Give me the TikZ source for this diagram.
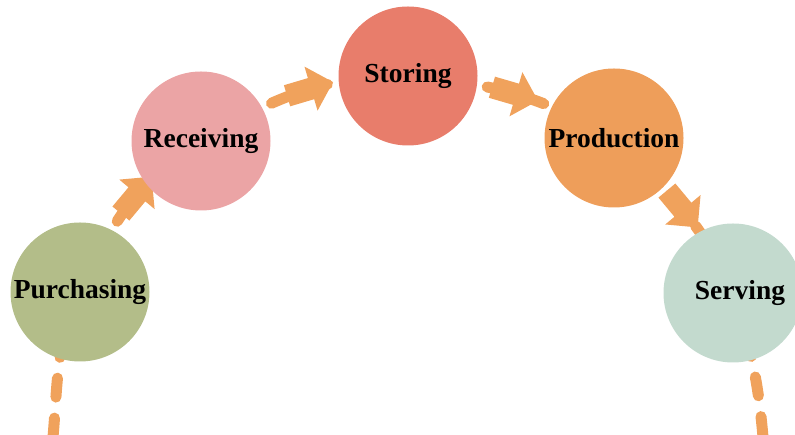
\documentclass[tikz,border=0pt]{standalone}
\usepackage{fontspec}
\setmainfont{Liberation Serif}
\usepackage{tikz}
\usetikzlibrary{arrows.meta,calc,positioning,decorations.markings,backgrounds}
\usepackage{xcolor}
\definecolor{cPurch}{RGB}{179,189,137}
\definecolor{cRecv}{RGB}{235,164,165}
\definecolor{cStor}{RGB}{232,125,107}
\definecolor{cProd}{RGB}{238,158,90}
\definecolor{cServ}{RGB}{195,218,206}
\definecolor{cFlow}{RGB}{240,162,92}

\tikzset{
  stage/.style={circle, minimum size=139pt, inner sep=0pt,
    font=\fontsize{27.5}{30}\selectfont\bfseries},
  flow/.style={cFlow, line width=11pt, line cap=round, dash pattern=on 19pt off 21pt},
  flowarrow/.style={postaction={decorate}, decoration={markings, mark=at position #1 with
    {\fill[cFlow] (-24pt,-11pt) -- (1pt,-11pt) -- (1pt,-23pt) -- (24pt,0pt)
       -- (1pt,23pt) -- (1pt,11pt) -- (-24pt,11pt) -- cycle;}}}
}

\begin{document}
\begin{tikzpicture}[x=1pt,y=1pt]
\useasboundingbox (0,0) rectangle (795,435);
\node[stage, fill=cPurch] (purch) at (80,143) {Purchasing};
\node[stage, fill=cRecv]  (recv)  at (201,294) {Receiving};
\node[stage, fill=cStor]  (stor)  at (408,359) {Storing};
\node[stage, fill=cProd]  (prod)  at (614,297) {Production};
\node[stage, fill=cServ]  (serv)  at (733,142) {\hspace*{14pt}Serving};
\coordinate (start) at (53,-2);
\coordinate (stop)  at (763,-2);
%
% the flow behind the circles
\begin{pgfonlayer}{background}
\draw[flow] (start) to[out=85,in=245] (purch.center);
\draw[flow, flowarrow=0.57] (purch.center) to[out=65,in=211] (recv.center);
\draw[flow, flowarrow=0.55] (recv.center) to[out=31,in=180] (stor.center);
\draw[flow, flowarrow=0.5] (stor.center) to[out=-5,in=150] (prod.center);
\draw[flow, flowarrow=0.5] (prod.center) to[out=-45,in=113] (serv.center);
\draw[flow, dash phase=33pt] (serv.center) to[out=-72,in=95] (stop);
\end{pgfonlayer}
%
\end{tikzpicture}
\end{document}
